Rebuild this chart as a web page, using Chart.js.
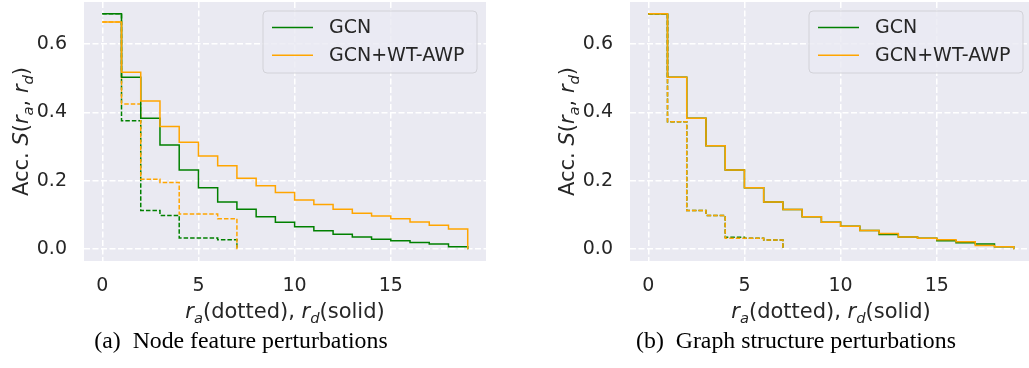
<!DOCTYPE html>
<html>
<head>
<meta charset="utf-8">
<script src="https://cdn.jsdelivr.net/npm/chart.js@4.4.1/dist/chart.umd.min.js"></script>
<style>
  html, body { margin: 0; padding: 0; background: #fff; overflow: hidden; width: 1029px; height: 368px; }
  canvas { position: absolute; top: 0; }
</style>
</head>
<body>
<canvas id="chartA" width="490" height="368" style="left:0px"></canvas>
<canvas id="chartB" width="490" height="368" style="left:546px"></canvas>
<script>
// perturbation budgets
const rdSteps = [0, 1, 2, 3, 4, 5, 6, 7, 8, 9, 10, 11, 12, 13, 14, 15, 16, 17, 18, 19];
const raSteps = [0, 1, 2, 3, 4, 5, 6, 7];
const xTicks = [0, 5, 10, 15];
const yTicks = [0, 0.2, 0.4, 0.6];

// (a) node feature perturbations
const gcnDropA = [0.689, 0.503, 0.383, 0.305, 0.232, 0.180, 0.138, 0.117, 0.095, 0.079, 0.066, 0.054, 0.044, 0.036, 0.029, 0.025, 0.020, 0.015, 0.007, 0];
const awpDropA = [0.665, 0.518, 0.434, 0.359, 0.313, 0.273, 0.244, 0.208, 0.186, 0.166, 0.144, 0.131, 0.117, 0.105, 0.097, 0.089, 0.080, 0.070, 0.059, 0];
const gcnAddA = [0.689, 0.376, 0.113, 0.099, 0.033, 0.033, 0.028, 0];
const awpAddA = [0.665, 0.425, 0.205, 0.195, 0.103, 0.103, 0.089, 0];

// (b) graph structure perturbations
const gcnDropB = [0.689, 0.503, 0.383, 0.303, 0.232, 0.180, 0.138, 0.116, 0.095, 0.079, 0.067, 0.055, 0.043, 0.036, 0.032, 0.025, 0.019, 0.015, 0.007, 0];
const awpDropB = [0.689, 0.503, 0.383, 0.303, 0.232, 0.180, 0.138, 0.116, 0.095, 0.079, 0.067, 0.055, 0.046, 0.036, 0.032, 0.028, 0.022, 0.011, 0.007, 0];
const gcnAddB = [0.689, 0.373, 0.113, 0.099, 0.035, 0.032, 0.027, 0];
const awpAddB = [0.689, 0.373, 0.113, 0.099, 0.032, 0.032, 0.027, 0];

const GREEN = '#008000';
const ORANGE = '#ffa500';
const FONT = '"DejaVu Sans"';
const FS = 19;   // ticks, legend
const LS = 21;   // axis titles

// label text, italic, subscript
const yTitle = [['Acc. '], ['S', 1], ['('], ['r', 1], ['a', 1, 1], [', '], ['r', 1], ['d', 1, 1], [')']];
const xTitle = [['r', 1], ['a', 1, 1], ['(dotted), '], ['r', 1], ['d', 1, 1], ['(solid)']];

function pts(xs, ys) {
  return xs.map((x, i) => ({x: x, y: ys[i]}));
}

function drawRich(ctx, parts, size) {
  const fonts = parts.map(p => (p[1] ? 'italic ' : '') + (p[2] ? size * 0.7 : size) + 'px ' + FONT);
  let w = 0;
  parts.forEach((p, i) => { ctx.font = fonts[i]; w += ctx.measureText(p[0]).width; });
  let x = -w / 2;
  parts.forEach((p, i) => {
    ctx.font = fonts[i];
    ctx.fillText(p[0], x, p[2] ? size * 0.24 : 0);
    x += ctx.measureText(p[0]).width;
  });
}

const decor = {
  id: 'decor',
  beforeDraw(chart) {
    const {ctx, chartArea: a} = chart;
    ctx.save();
    ctx.fillStyle = '#eaeaf2';
    ctx.fillRect(a.left, a.top, a.width, a.height);
    ctx.restore();
  },
  afterDraw(chart, args, opts) {
    const {ctx, chartArea: a} = chart;
    ctx.save();
    ctx.fillStyle = '#262626';
    ctx.textBaseline = 'alphabetic';

    // y title
    ctx.save();
    ctx.translate(28, (a.top + a.bottom) / 2);
    ctx.rotate(-Math.PI / 2);
    drawRich(ctx, yTitle, LS);
    ctx.restore();

    // x title
    ctx.save();
    ctx.translate((a.left + a.right) / 2, 318);
    drawRich(ctx, xTitle, LS);
    ctx.restore();

    // caption
    ctx.fillStyle = '#000';
    ctx.font = '23.8px "Liberation Serif"';
    ctx.textAlign = 'center';
    ctx.fillText(opts.caption, opts.captionX, 348);

    // legend
    const bw = 214, bh = 62;
    const bx = a.right - 9 - bw, by = a.top + 9;
    ctx.beginPath();
    ctx.roundRect(bx, by, bw, bh, 4);
    ctx.fillStyle = 'rgba(234,234,242,0.8)';
    ctx.fill();
    ctx.strokeStyle = '#d2d2d8';
    ctx.lineWidth = 1;
    ctx.stroke();
    ctx.textAlign = 'left';
    ctx.textBaseline = 'middle';
    ctx.font = FS + 'px ' + FONT;
    const entries = chart.data.datasets.filter(d => !d.borderDash);
    entries.forEach((d, i) => {
      const y = by + 16.5 + i * 27.7;
      ctx.beginPath();
      ctx.moveTo(bx + 9, y);
      ctx.lineTo(bx + 50, y);
      ctx.strokeStyle = d.borderColor;
      ctx.lineWidth = 1.5;
      ctx.stroke();
      ctx.fillStyle = '#262626';
      ctx.fillText(d.label, bx + 66, y + 1);
    });
    ctx.restore();
  }
};

function makeChart(id, gDrop, aDrop, gAdd, aAdd, caption, captionX) {
  const line = {pointRadius: 0, borderWidth: 1.5, stepped: 'before', fill: false};
  return new Chart(document.getElementById(id), {
    type: 'line',
    data: {
      datasets: [
        Object.assign({label: 'GCN', data: pts(rdSteps, gDrop), borderColor: GREEN, order: 2}, line),
        Object.assign({label: 'GCN+WT-AWP', data: pts(rdSteps, aDrop), borderColor: ORANGE, order: 1}, line),
        Object.assign({label: 'GCN ra', data: pts(raSteps, gAdd), borderColor: GREEN, borderDash: [4.5, 2], order: 4}, line),
        Object.assign({label: 'GCN+WT-AWP ra', data: pts(raSteps, aAdd), borderColor: ORANGE, borderDash: [4.5, 2], order: 3}, line)
      ]
    },
    options: {
      responsive: false,
      animation: false,
      layout: {padding: {top: 2, right: 4, left: 0, bottom: 0}},
      plugins: {
        legend: {display: false},
        tooltip: {enabled: false},
        decor: {caption: caption, captionX: captionX}
      },
      scales: {
        x: {
          type: 'linear',
          min: -0.95,
          max: 19.95,
          afterBuildTicks: s => { s.ticks = xTicks.map(v => ({value: v})); },
          afterFit: s => { s.height = 107; s.paddingLeft = 0; s.paddingRight = 0; },
          grid: {color: '#ffffff', lineWidth: 1.5, drawTicks: false},
          border: {display: false, dash: [6, 2.5]},
          ticks: {padding: 14, color: '#262626', font: {family: 'DejaVu Sans', size: FS}}
        },
        y: {
          min: -0.0345,
          max: 0.7235,
          afterBuildTicks: s => { s.ticks = yTicks.map(v => ({value: v})); },
          afterFit: s => { s.width = 84; s.paddingTop = 0; s.paddingBottom = 0; },
          grid: {color: '#ffffff', lineWidth: 1.5, drawTicks: false},
          border: {display: false, dash: [6, 2.5]},
          ticks: {padding: 17, color: '#262626', font: {family: 'DejaVu Sans', size: FS},
                  callback: v => v.toFixed(1)}
        }
      }
    },
    plugins: [decor]
  });
}

makeChart('chartA', gcnDropA, awpDropA, gcnAddA, awpAddA, '(a)  Node feature perturbations', 241);
makeChart('chartB', gcnDropB, awpDropB, gcnAddB, awpAddB, '(b)  Graph structure perturbations', 250);
</script>
</body>
</html>
